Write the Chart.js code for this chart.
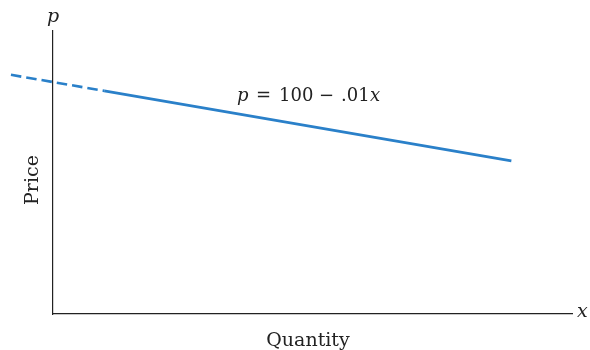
<!DOCTYPE html>
<html>
<head>
<meta charset="utf-8">
<script src="https://cdn.jsdelivr.net/npm/chart.js@4/dist/chart.umd.min.js"></script>
<style>
  html, body { margin: 0; padding: 0; background: #fff; }
  #wrap { width: 590px; height: 350px; }
</style>
</head>
<body>
<div id="wrap"><canvas id="c" width="590" height="350"></canvas></div>
<script>
// Demand line p = 100 - .01x
const quantities = [-312, 380, 3400];
const prices = [103.1, 96.2, 66.0];
const xRange = [0, 3850];
const yRange = [0, 122];
const xTitle = 'Quantity';
const yTitle = 'Price';
const xSymbol = 'x';
const ySymbol = 'p';
const equationParts = [
  { t: 'p', italic: true },
  { t: '=', italic: false },
  { t: '100', italic: false },
  { t: '\u2212', italic: false },
  { t: '.01', italic: false },
  { t: 'x', italic: true }
];

const FONT = '"DejaVu Serif", "Liberation Serif", serif';
const TEXT = '#222';

const labelsPlugin = {
  id: 'labels',
  afterDraw(chart) {
    const ctx = chart.ctx;
    const a = chart.chartArea;
    ctx.save();
    ctx.fillStyle = TEXT;
    // axis symbols
    ctx.font = 'italic 19px ' + FONT;
    ctx.textAlign = 'center';
    ctx.textBaseline = 'alphabetic';
    ctx.fillText(ySymbol, a.left, a.top - 9);
    ctx.textAlign = 'left';
    ctx.textBaseline = 'middle';
    ctx.fillText(xSymbol, a.right + 5, a.bottom - 2);
    // axis titles
    ctx.font = '19px ' + FONT;
    ctx.textAlign = 'center';
    ctx.textBaseline = 'alphabetic';
    ctx.fillText(xTitle, 308, 346);
    ctx.save();
    ctx.translate(38, 180);
    ctx.rotate(-Math.PI / 2);
    ctx.fillText(yTitle, 0, 0);
    ctx.restore();
    // equation
    const xs = [237, 256, 279, 319, 341, 370];
    equationParts.forEach((p, i) => {
      ctx.font = (p.italic ? 'italic ' : '') + '18px ' + FONT;
      ctx.textAlign = 'left';
      ctx.fillText(p.t, xs[i], 101);
    });
    ctx.restore();
  }
};

new Chart(document.getElementById('c'), {
  type: 'scatter',
  data: {
    datasets: [{
      data: quantities.map((q, i) => ({ x: q, y: prices[i] })),
      showLine: true,
      borderColor: '#2a80c9',
      borderWidth: 2.6,
      pointRadius: 0,
      clip: false,
      segment: {
        borderDash: c => (c.p0DataIndex === 0 ? [10.5, 5] : undefined)
      }
    }]
  },
  options: {
    responsive: false,
    animation: false,
    events: [],
    layout: { padding: { left: 53, top: 31, right: 18, bottom: 36 } },
    plugins: { legend: { display: false }, tooltip: { enabled: false } },
    scales: {
      x: {
        type: 'linear', min: xRange[0], max: xRange[1],
        grid: { display: false, drawTicks: false, tickLength: 0 },
        ticks: { display: false, padding: 0 },
        border: { display: true, color: TEXT, width: 1.2 }
      },
      y: {
        type: 'linear', min: yRange[0], max: yRange[1],
        grid: { display: false, drawTicks: false, tickLength: 0 },
        ticks: { display: false, padding: 0 },
        border: { display: true, color: TEXT, width: 1.2 }
      }
    }
  },
  plugins: [labelsPlugin]
});
</script>
</body>
</html>
